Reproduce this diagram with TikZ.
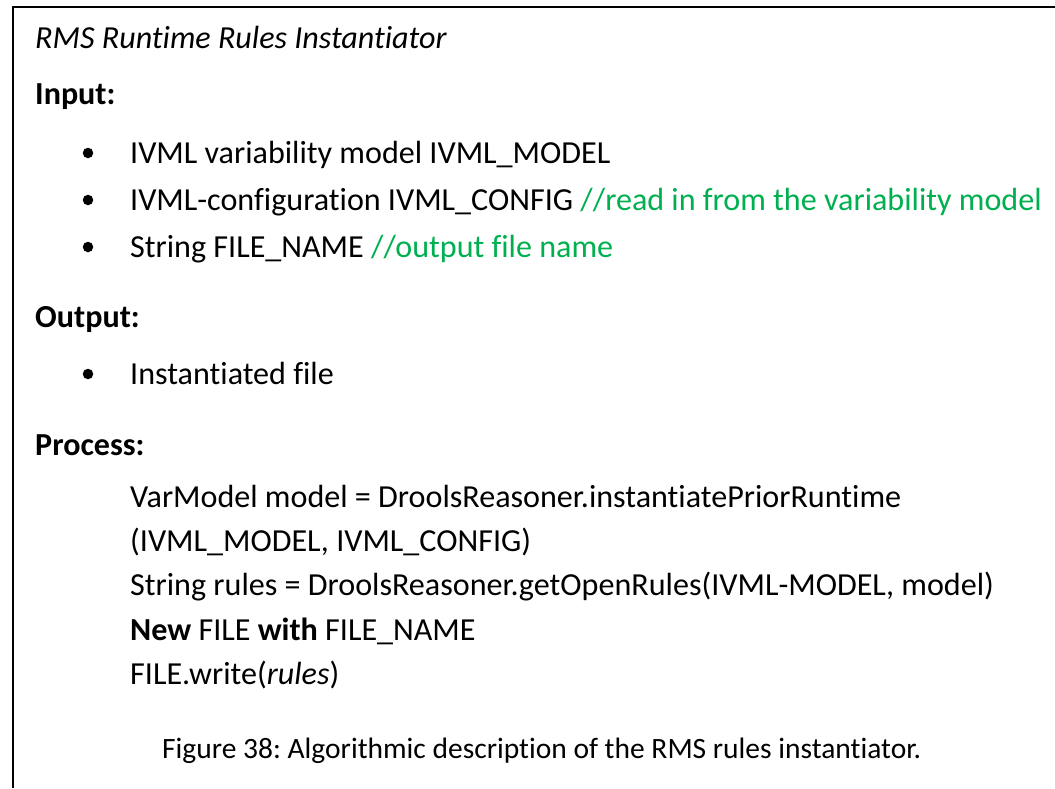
\documentclass[tikz,border=0pt]{standalone}
\usepackage{fontspec}
\setmainfont{Carlito}[RawFeature={-liga;-clig}]
\definecolor{commentgreen}{HTML}{00B050}
\frenchspacing
\begin{document}
\begin{tikzpicture}[x=1pt,y=-1pt,
  txt/.style={anchor=base west,inner sep=0pt,font=\fontsize{32.1}{38}\selectfont},
  head/.style={txt,font=\fontsize{32.1}{38}\selectfont\bfseries},
  captiontxt/.style={txt,font=\fontsize{29.5}{35}\selectfont},
  bulletdot/.style={circle,fill=black,inner sep=0pt,minimum size=10.5pt},
  frame/.style={line width=2.2pt,black}]
\useasboundingbox (0,0) rectangle (1055,788);
\fill[white] (0,0) rectangle (1055,788);
% open frame: left and top edges of the algorithm box
\draw[frame] (13,788) -- (13,7) -- (1055,7);

% title
\node[txt] (title) at (35,48) {\itshape RMS Runtime Rules Instantiator};

% input section
\node[head] (input) at (35,104) {Input:};
\node[bulletdot] (d1) at (88,153) {};
\node[txt] (i1) at (130,163) {IVML variability model IVML\_MODEL};
\node[bulletdot] (d2) at (88,200) {};
\node[txt] (i2) at (130,210) {IVML-configuration IVML\_CONFIG \textcolor{commentgreen}{//read in from the variability model}};
\node[bulletdot] (d3) at (88,247) {};
\node[txt] (i3) at (130,257) {String FILE\_NAME \textcolor{commentgreen}{//output file name}};

% output section
\node[head] (output) at (35,327) {Output:};
\node[bulletdot] (d4) at (88,374) {};
\node[txt] (o1) at (130,384) {Instantiated file};

% process section
\node[head] (process) at (35,455) {Process:};
\node[txt] (p1) at (130,507) {VarModel model = DroolsReasoner.instantiatePriorRuntime};
\node[txt] (p2) at (130,551) {(IVML\_MODEL, IVML\_CONFIG)};
\node[txt] (p3) at (130,595) {String rules = DroolsReasoner.getOpenRules(IVML-MODEL, model)};
\node[txt] (p4) at (130,640) {\textbf{New} FILE \textbf{with} FILE\_NAME};
\node[txt] (p5) at (130,684) {FILE.write(\textit{rules})};

% caption
\node[captiontxt] (cap) at (162,758) {Figure 38: Algorithmic description of the RMS rules instantiator.};
\end{tikzpicture}
\end{document}
